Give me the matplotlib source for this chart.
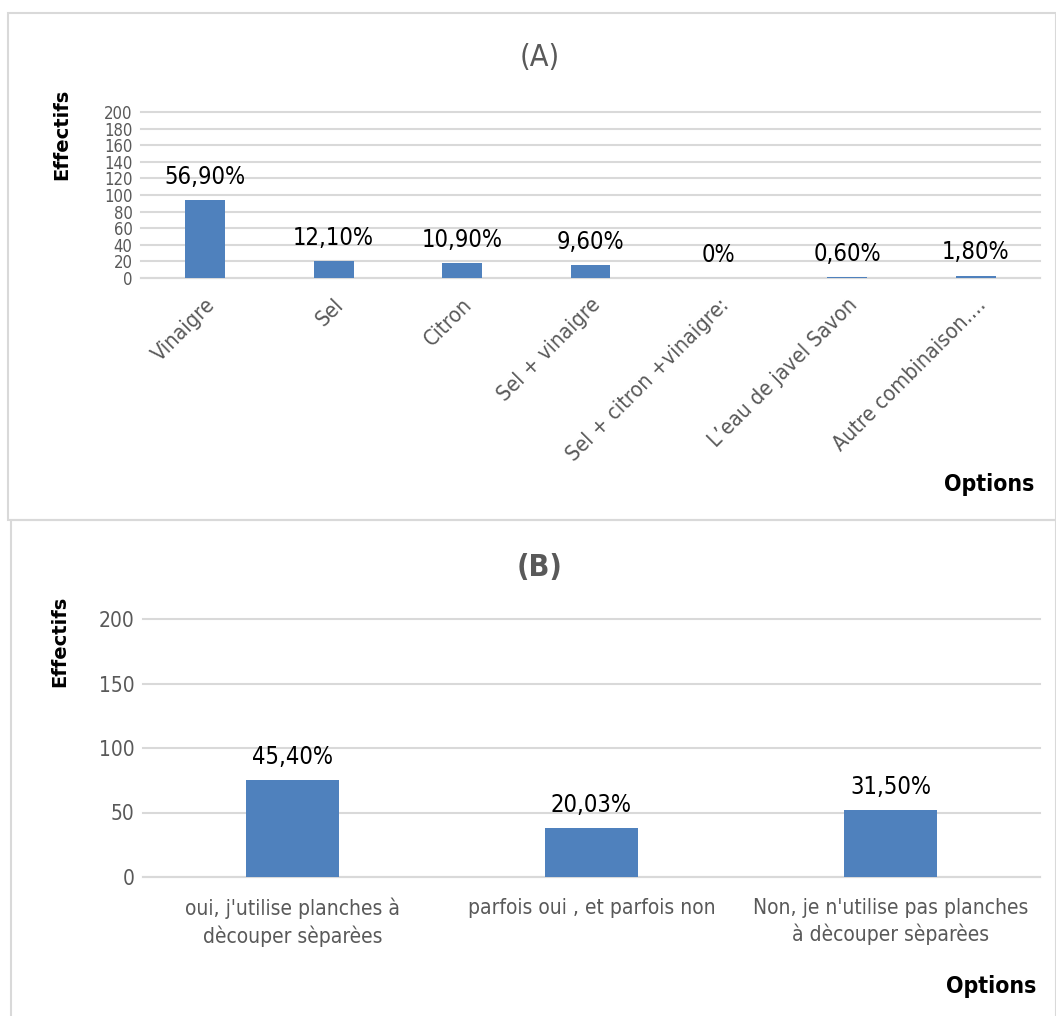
import matplotlib
matplotlib.use("Agg")
import matplotlib.pyplot as plt
from matplotlib.patches import Rectangle

# ---- data ----
cats_a = ["Vinaigre", "Sel", "Citron", "Sel + vinaigre", "Sel + citron +vinaigre:",
          "L’eau de javel Savon", "Autre combinaison...."]
vals_a = [94, 20, 18, 16, 0, 1, 3]
labels_a = ["56,90%", "12,10%", "10,90%", "9,60%", "0%", "0,60%", "1,80%"]
yticks_a = [0, 20, 40, 60, 80, 100, 120, 140, 160, 180, 200]

cats_b = ["oui, j'utilise planches à\ndècouper sèparèes", "parfois oui , et parfois non",
          "Non, je n'utilise pas planches\nà dècouper sèparèes"]
vals_b = [75, 38, 52]
labels_b = ["45,40%", "20,03%", "31,50%"]
yticks_b = [0, 50, 100, 150, 200]

plt.rcParams['font.family'] = ["DejaVu Sans"]
plt.rcParams['font.stretch'] = 'condensed'
BAR = "#4F81BD"
GRID = "#D9D9D9"
TXT = "#595959"

W, H = 1056, 1016
fig = plt.figure(figsize=(W / 100, H / 100), dpi=100)

def fx(x):
    return x / W

def fy(y):
    return 1 - y / H

# panel frames
fig.patches.append(Rectangle((fx(8), fy(520)), fx(1056 - 8), fy(13) - fy(520),
                             transform=fig.transFigure, fill=False, edgecolor="#D9D9D9", lw=1.5))
fig.patches.append(Rectangle((fx(11), fy(1018)), fx(1056 - 11), fy(520) - fy(1018),
                             transform=fig.transFigure, fill=False, edgecolor="#D9D9D9", lw=1.5))


def style_axes(ax, yticks, size):
    ax.set_ylim(0, 200)
    ax.set_yticks(yticks)
    ax.yaxis.grid(True, color=GRID, lw=1.5)
    ax.set_axisbelow(True)
    for ln in ax.get_ygridlines():
        ln.set_clip_on(False)
    for s in ["top", "right", "left"]:
        ax.spines[s].set_visible(False)
    ax.spines["bottom"].set_color(GRID)
    ax.spines["bottom"].set_linewidth(1.5)
    ax.tick_params(axis="both", length=0, colors=TXT, labelsize=size)
    ax.tick_params(axis="y", pad=6)


# ---- Panel A ----
axA = fig.add_axes([fx(141), fy(278), fx(1040 - 141), fy(112) - fy(278)])
style_axes(axA, yticks_a, 12)
xa = list(range(len(cats_a)))
axA.bar(xa, vals_a, width=0.31, color=BAR, zorder=3)
axA.set_xlim(-0.5, len(cats_a) - 0.5)
axA.set_xticks(xa)
axA.set_xticklabels(cats_a, rotation=45, ha="right", rotation_mode="anchor", fontsize=15.5)
axA.tick_params(axis="x", pad=12)
for x, v, lab in zip(xa, vals_a, labels_a):
    axA.annotate(lab, (x, v), xytext=(0, 8), textcoords="offset points",
                 ha="center", va="bottom", fontsize=17, color="black")
fig.text(fx(540), fy(58), "(A)", ha="center", va="center", fontsize=22, color=TXT)
fig.text(fx(62), fy(134), "Effectifs", rotation=90, ha="center", va="center",
         fontsize=14, fontweight="bold", fontstretch="normal", color="black")
fig.text(fx(1034), fy(484), "Options", ha="right", va="center",
         fontsize=16.5, fontweight="bold", color="black")

# ---- Panel B ----
axB = fig.add_axes([fx(143), fy(877), fx(1040 - 143), fy(619) - fy(877)])
style_axes(axB, yticks_b, 15)
xb = list(range(len(cats_b)))
axB.bar(xb, vals_b, width=0.31, color=BAR, zorder=3)
axB.set_xlim(-0.5, len(cats_b) - 0.5)
axB.set_xticks(xb)
axB.set_xticklabels(cats_b, fontsize=15, linespacing=1.35)
axB.tick_params(axis="x", pad=15)
for x, v, lab in zip(xb, vals_b, labels_b):
    axB.annotate(lab, (x, v), xytext=(0, 8), textcoords="offset points",
                 ha="center", va="bottom", fontsize=17, color="black")
fig.text(fx(540), fy(567), "(B)", ha="center", va="center", fontsize=22,
         fontweight="bold", color=TXT)
fig.text(fx(60), fy(641), "Effectifs", rotation=90, ha="center", va="center",
         fontsize=14, fontweight="bold", fontstretch="normal", color="black")
fig.text(fx(1036), fy(986), "Options", ha="right", va="center",
         fontsize=16.5, fontweight="bold", color="black")

fig.savefig("out.png", dpi=100)
